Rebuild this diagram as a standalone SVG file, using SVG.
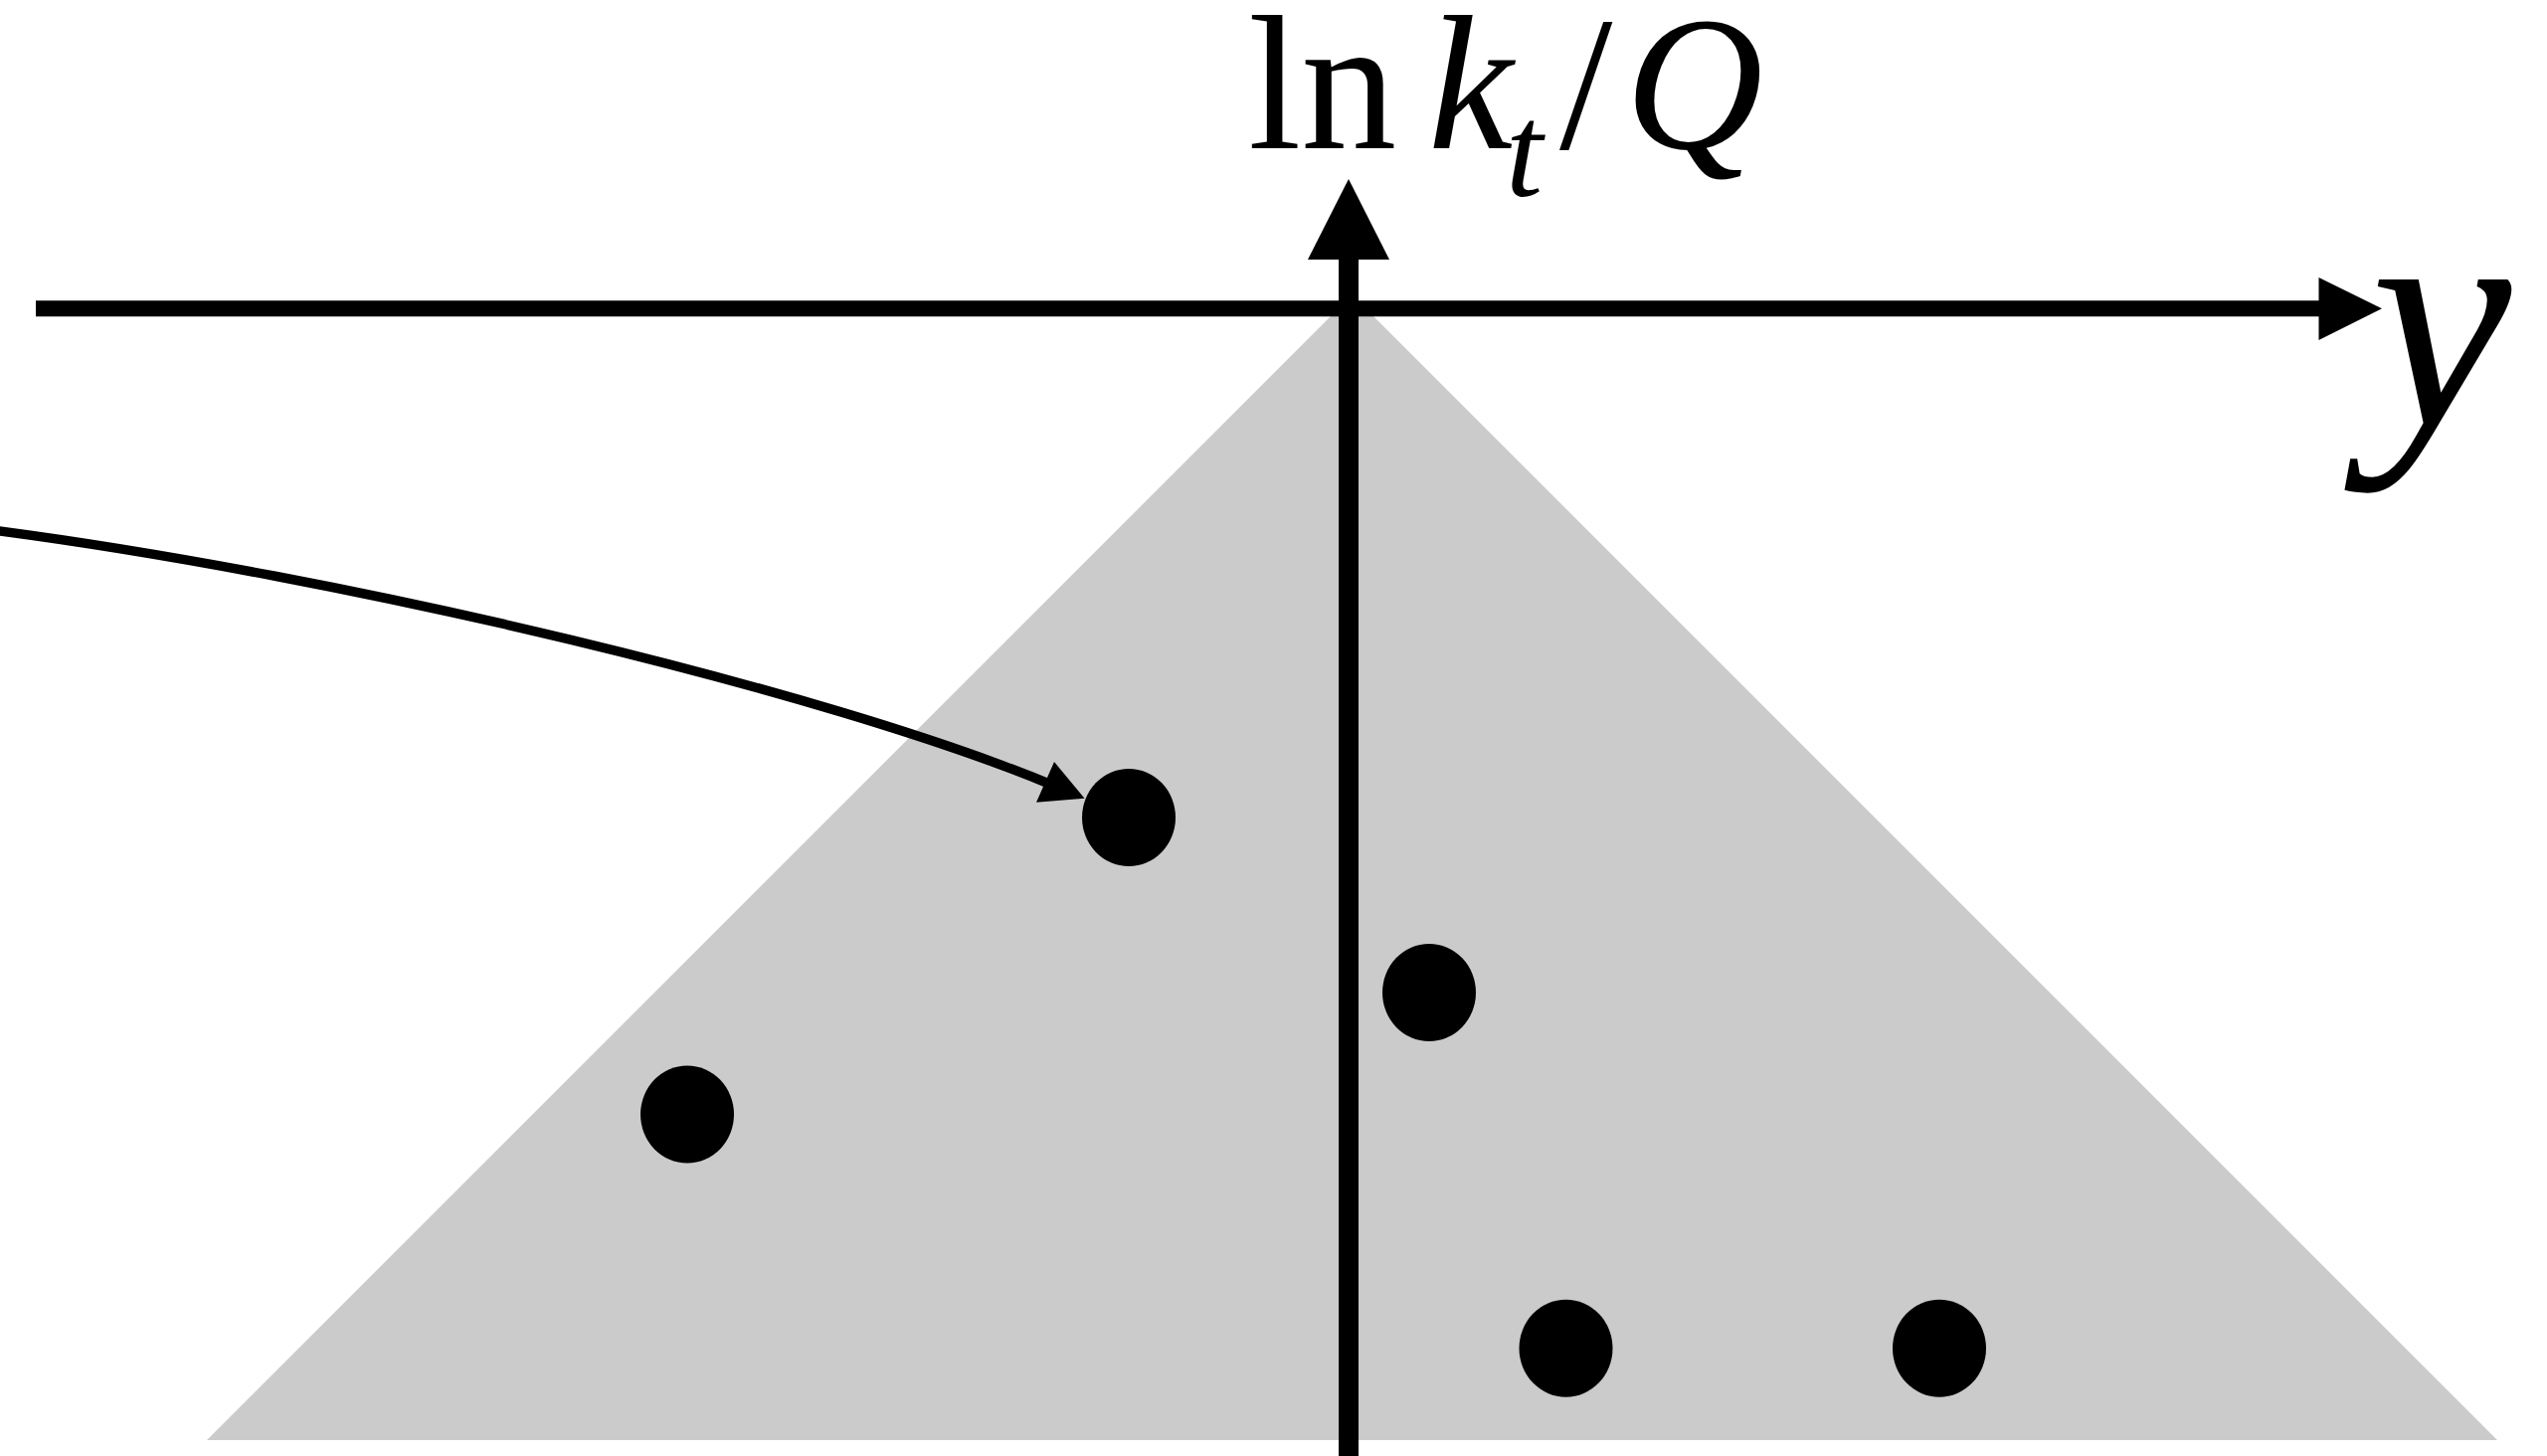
<svg xmlns="http://www.w3.org/2000/svg" width="2561" height="1464" viewBox="0 0 2561 1464">
<style>
.dot{fill:#000}
.lbl{font-family:"Liberation Serif","Times New Roman",serif;fill:#000}
.it{font-style:italic}
</style>
<rect width="2561" height="1464" fill="#fff"/>
<g id="region"><polygon points="1359.5,296.5 2511,1448 208,1448" fill="#cbcbcb"/></g>
<g id="axes">
<line x1="36" y1="310.3" x2="2335" y2="310.3" stroke="#000" stroke-width="16"/>
<polygon points="2395,310.3 2331.5,279 2331.5,342" fill="#000"/>
<line x1="1356" y1="258" x2="1356" y2="1464" stroke="#000" stroke-width="20"/>
<polygon points="1356,180 1315,261 1397,261" fill="#000"/>
</g>
<g id="points">
<ellipse id="p1" class="dot" cx="1135" cy="822" rx="47" ry="49"/>
<ellipse id="p2" class="dot" cx="1437" cy="998" rx="47" ry="49"/>
<ellipse id="p3" class="dot" cx="691" cy="1120.5" rx="47" ry="49"/>
<ellipse id="p4" class="dot" cx="1574.5" cy="1355.7" rx="47" ry="49"/>
<ellipse id="p5" class="dot" cx="1950" cy="1355.7" rx="47" ry="49"/>
</g>
<g id="connectors">
<path d="M -10,532.7 C 350,579.5 830,695 1056,788.5" fill="none" stroke="#000" stroke-width="9.5"/>
<polygon points="1090.5,802.7 1060,766 1042,806.7" fill="#000"/>
</g>
<g id="labels">
<text class="lbl" y="149" font-size="192"><tspan x="1255">ln</tspan><tspan class="it" x="1436">k</tspan><tspan class="it" x="1514" y="197" font-size="134">t</tspan><tspan x="1568" y="149">/</tspan><tspan class="it" x="1634" y="149">Q</tspan></text>
<text class="lbl it" x="2384" y="427" font-size="318">y</text>
</g>
</svg>
